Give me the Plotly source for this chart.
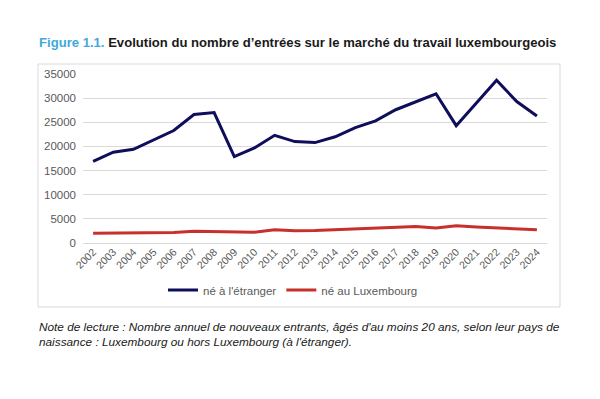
import plotly.graph_objects as go

years = [str(y) for y in range(2002, 2025)]
ne_etranger = [16900, 18800, 19400, 21400, 23300, 26600, 27000, 17900, 19700, 22300,
               21000, 20800, 22000, 23900, 25300, 27600, 29200, 30900, 24300, 29000,
               33700, 29300, 26300]
ne_luxembourg = [2000, 2020, 2050, 2100, 2150, 2450, 2350, 2200, 2250, 2750,
                 2550, 2600, 2750, 2900, 3150, 3200, 3400, 3100, 3550, 3300,
                 3150, 2900, 2750]
series_names = ["né à l'étranger", "né au Luxembourg"]
y_ticks = [0, 5000, 10000, 15000, 20000, 25000, 30000, 35000]

title_prefix = "Figure 1.1."
title_main = "Evolution du nombre d’entrées sur le marché du travail luxembourgeois"
note_lines = [
    "Note de lecture : Nombre annuel de nouveaux entrants, âgés d'au moins 20 ans, selon leur pays de",
    "naissance : Luxembourg ou hors Luxembourg (à l'étranger).",
]

FONT = "Liberation Sans, Arial, sans-serif"
W, H = 600, 399
L, R, T, B = 83, 53, 74, 156
pw, ph = W - L - R, H - T - B

def px_x(x):
    return (x - L) / pw

def px_y(y):
    return (H - B - y) / ph

fig = go.Figure()
fig.add_trace(go.Scatter(x=years, y=ne_etranger, mode="lines", name=series_names[0],
                         line=dict(color="#0E0E5A", width=3)))
fig.add_trace(go.Scatter(x=years, y=ne_luxembourg, mode="lines", name=series_names[1],
                         line=dict(color="#C8302C", width=3)))

fig.update_layout(
    width=W, height=H,
    margin=dict(l=L, r=R, t=T, b=B),
    paper_bgcolor="white", plot_bgcolor="white",
    font=dict(family=FONT, color="#595959", size=11),
    showlegend=True,
    legend=dict(orientation="h", x=px_x(293), xanchor="center", y=px_y(290), yanchor="middle",
                font=dict(size=11.5, color="#595959"), itemwidth=30,
                bgcolor="rgba(0,0,0,0)"),
    xaxis=dict(type="category", range=[-0.5, len(years) - 0.5], tickangle=-45,
               showgrid=False, showline=False, ticks="", tickfont=dict(size=10.5, color="#595959"),
               fixedrange=True),
    yaxis=dict(range=[0, 35000], tickvals=y_ticks, tickformat="d", showgrid=True,
               gridcolor="#D9D9D9", gridwidth=1, zeroline=True, zerolinecolor="#D9D9D9",
               zerolinewidth=1, showline=False, ticks="", ticklabelstandoff=6,
               tickfont=dict(size=11.5, color="#595959"), fixedrange=True),
)

# chart border box
fig.add_shape(type="rect", xref="paper", yref="paper",
              x0=px_x(38), x1=px_x(560), y0=px_y(307), y1=px_y(64),
              line=dict(color="#D9D9D9", width=1), fillcolor="rgba(0,0,0,0)", layer="below")

# title
fig.add_annotation(xref="paper", yref="paper", x=px_x(37), y=px_y(43),
                   xanchor="left", yanchor="middle", showarrow=False,
                   text=f"<b><span style='color:#3FA9DC'>{title_prefix}</span> {title_main}</b>",
                   font=dict(family=FONT, size=13.1, color="#1A1A1A"))

# note
fig.add_annotation(xref="paper", yref="paper", x=px_x(37), y=px_y(318),
                   xanchor="left", yanchor="top", showarrow=False, align="left",
                   text="<i>" + "<br>".join(note_lines) + "</i>",
                   font=dict(family=FONT, size=11.8, color="#1A1A1A"))

fig.write_html("out.html", config={"displayModeBar": False},
               post_script="document.body.style.margin='0';")
